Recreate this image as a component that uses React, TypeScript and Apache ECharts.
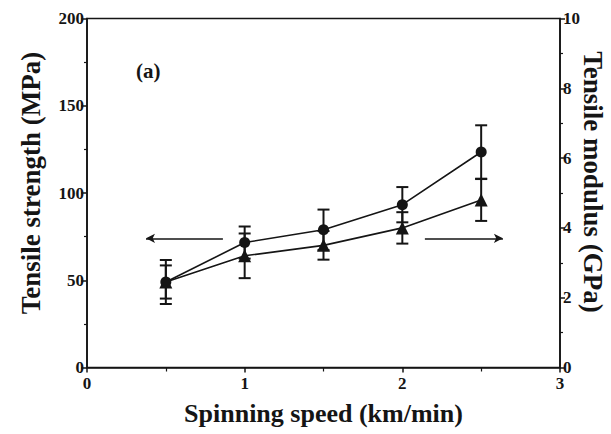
import React, { useEffect, useRef } from "react";
import * as echarts from "echarts";

const speeds = [0.5, 1.0, 1.5, 2.0, 2.5];
const strength = [49, 71.6, 78.9, 93.3, 123.5];
const strengthErr = [9.5, 9.2, 11.6, 10.1, 15.3];
const modulus = [2.45, 3.2, 3.5, 4.0, 4.8];
const modulusErr = [0.63, 0.64, 0.41, 0.45, 0.6];
const leftArrow = [[0.862, 74], [0.374, 74]];
const rightArrow = [[2.143, 74], [2.638, 74]];
const xTitle = "Spinning speed (km/min)";
const leftTitle = "Tensile strength (MPa)";
const rightTitle = "Tensile modulus (GPa)";

const FONT = '"Liberation Serif", "Times New Roman", serif';
const INK = "#151515";

export default function App() {
  const ref = useRef<HTMLDivElement>(null);
  useEffect(() => {
    if (!ref.current) return;
    const chart = echarts.init(ref.current, null, { renderer: "svg" });
    const errRender = (params: any, api: any) => {
      const x = api.value(0);
      const y = api.value(1);
      const e = api.value(2);
      const top = api.coord([x, y + e]);
      const bot = api.coord([x, y - e]);
      const hw = 6;
      const style = { stroke: INK, lineWidth: 2 };
      return {
        type: "group",
        children: [
          { type: "line", shape: { x1: top[0], y1: top[1], x2: bot[0], y2: bot[1] }, style },
          { type: "line", shape: { x1: top[0] - hw, y1: top[1], x2: top[0] + hw, y2: top[1] }, style },
          { type: "line", shape: { x1: bot[0] - hw, y1: bot[1], x2: bot[0] + hw, y2: bot[1] }, style },
        ],
      };
    };
    const axisLabel = { color: INK, fontFamily: FONT, fontWeight: "bold", fontSize: 17 };
    const axisLine = { show: true, lineStyle: { color: INK, width: 1.6 } };
    chart.setOption({
      animation: false,
      grid: {
        left: 87,
        right: 51,
        top: 18.5,
        bottom: 66.5,
        show: true,
        borderColor: INK,
        borderWidth: 1.6,
        containLabel: false,
        outerBoundsMode: "none",
      },
      xAxis: {
        type: "value",
        min: 0,
        max: 3,
        interval: 1,
        name: xTitle,
        nameLocation: "middle",
        nameGap: 33,
        nameTextStyle: { color: INK, fontFamily: FONT, fontWeight: "bold", fontSize: 26 },
        axisLine,
        axisTick: { show: true, length: 5, lineStyle: { color: INK, width: 1.5 } },
        minorTick: { show: true, splitNumber: 2, length: 4, lineStyle: { color: INK, width: 1.2 } },
        splitLine: { show: false },
        axisLabel: { ...axisLabel, margin: 7 },
      },
      yAxis: [
        {
          type: "value",
          min: 0,
          max: 200,
          interval: 50,
          axisLine,
          axisTick: { show: true, length: 6, lineStyle: { color: INK, width: 1.5 } },
          minorTick: { show: true, splitNumber: 2, length: 3, lineStyle: { color: INK, width: 1.2 } },
          splitLine: { show: false },
          axisLabel: { ...axisLabel, margin: 3 },
        },
        {
          type: "value",
          min: 0,
          max: 10,
          interval: 2,
          position: "right",
          axisLine,
          axisTick: { show: true, length: 5, lineStyle: { color: INK, width: 1.5 } },
          minorTick: { show: true, splitNumber: 2, length: 3, lineStyle: { color: INK, width: 1.2 } },
          splitLine: { show: false },
          axisLabel: { ...axisLabel, margin: 3 },
        },
      ],
      graphic: [
        {
          type: "text",
          left: 136,
          top: 60,
          style: { text: "(a)", fill: INK, font: `bold 21px ${FONT}` },
        },
        {
          type: "text",
          x: 31,
          y: 183,
          rotation: Math.PI / 2,
          style: {
            text: leftTitle,
            fill: INK,
            font: `bold 27px ${FONT}`,
            align: "center",
            verticalAlign: "middle",
          },
        },
        {
          type: "text",
          x: 593,
          y: 182,
          rotation: -Math.PI / 2,
          style: {
            text: rightTitle,
            fill: INK,
            font: `bold 27px ${FONT}`,
            align: "center",
            verticalAlign: "middle",
          },
        },
      ],
      series: [
        {
          type: "custom",
          yAxisIndex: 0,
          renderItem: errRender,
          data: speeds.map((s, i) => [s, strength[i], strengthErr[i]]),
          encode: { x: 0, y: 1 },
          z: 1,
        },
        {
          type: "custom",
          yAxisIndex: 1,
          renderItem: errRender,
          data: speeds.map((s, i) => [s, modulus[i], modulusErr[i]]),
          encode: { x: 0, y: 1 },
          z: 1,
        },
        {
          type: "line",
          yAxisIndex: 0,
          data: speeds.map((s, i) => [s, strength[i]]),
          symbol: "circle",
          symbolSize: 11,
          lineStyle: { color: INK, width: 1.6 },
          itemStyle: { color: INK },
          z: 3,
          markLine: {
            silent: true,
            symbol: ["none", "arrow"],
            symbolSize: [7, 9],
            label: { show: false },
            lineStyle: { color: INK, width: 1.5, type: "solid" },
            data: [
              [{ coord: leftArrow[0] }, { coord: leftArrow[1] }],
              [{ coord: rightArrow[0] }, { coord: rightArrow[1] }],
            ],
          },
        },
        {
          type: "line",
          yAxisIndex: 1,
          data: speeds.map((s, i) => [s, modulus[i]]),
          symbol: "triangle",
          symbolSize: 13,
          lineStyle: { color: INK, width: 1.6 },
          itemStyle: { color: INK },
          z: 3,
        },
      ],
    });
    return () => chart.dispose();
  }, []);
  return <div ref={ref} style={{ width: 611, height: 434, position: "absolute", left: 0, top: 0, background: "#fff" }} />;
}
